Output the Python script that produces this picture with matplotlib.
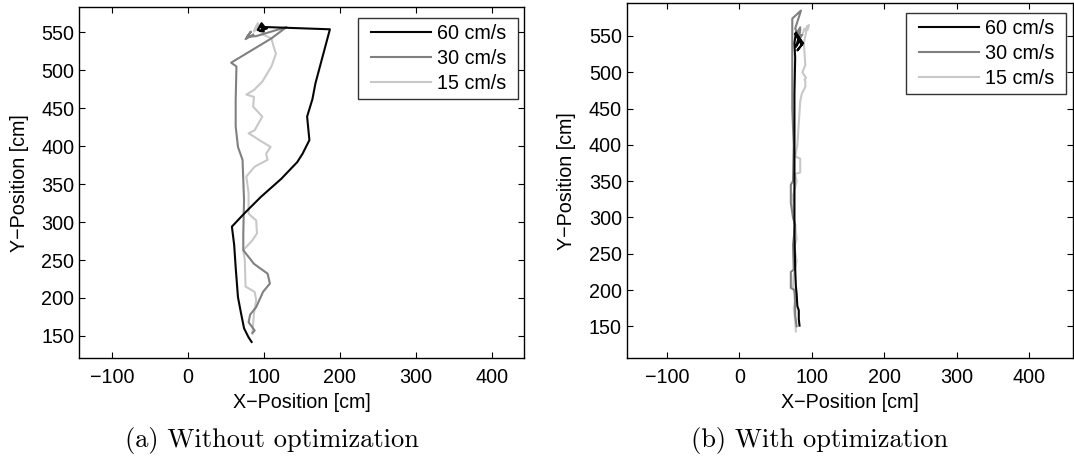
import matplotlib
matplotlib.use("Agg")
import matplotlib.pyplot as plt
from matplotlib.legend_handler import HandlerLine2D
from matplotlib.lines import Line2D

# ---------------- data ----------------
labels = ["60 cm/s", "30 cm/s", "15 cm/s"]
colors = ["#050505", "#808080", "#c8c8c8"]

# (a) Without optimization
x60_a = [84, 80, 74, 70, 66, 63, 61, 58, 74, 96, 123, 144, 151, 160, 157, 164, 168, 187, 101, 97, 92, 100, 96, 104, 95]
y60_a = [142, 148, 160, 180, 201, 240, 270, 294, 311, 333, 357, 379, 390, 408, 439, 462, 483, 554, 557, 562, 553, 551, 558, 555, 552]
x30_a = [85, 88, 80, 82, 90, 99, 108, 105, 87, 73, 73, 74, 72, 66, 63, 63, 64, 57, 110, 130, 90, 78, 83, 76, 86]
y30_a = [154, 157, 168, 178, 188, 208, 219, 232, 245, 263, 285, 329, 382, 399, 426, 461, 505, 510, 542, 557, 545, 544, 551, 541, 547]
x15_a = [85, 87, 90, 88, 76, 75, 73, 85, 91, 90, 80, 80, 77, 88, 105, 103, 109, 94, 88, 80, 88, 98, 86, 87, 77, 87, 98, 110, 116, 113, 110, 99, 90, 87, 92, 95, 89]
y15_a = [153, 179, 197, 208, 215, 250, 263, 276, 285, 302, 311, 338, 360, 373, 382, 390, 399, 408, 412, 417, 421, 439, 452, 465, 468, 474, 485, 505, 522, 531, 542, 547, 558, 551, 562, 556, 553]

# (b) With optimization
x60_b = [83, 82, 82, 80, 79, 78, 77, 76, 76, 76, 76, 77, 76, 78, 84, 78, 82, 88, 80, 86, 77, 83]
y60_b = [151, 160, 172, 178, 195, 205, 230, 280, 340, 400, 470, 520, 540, 555, 545, 535, 548, 540, 530, 538, 553, 545]
x30_b = [79, 77, 77, 76, 71, 71, 75, 74, 77, 74, 71, 71, 74, 75, 73, 73, 73, 85, 77, 80, 84, 82, 87, 80, 84]
y30_b = [150, 165, 178, 200, 203, 225, 228, 262, 290, 300, 320, 345, 350, 400, 450, 520, 574, 585, 560, 555, 562, 545, 552, 548, 558]
x15_b = [78, 77, 75, 78, 74, 75, 79, 76, 79, 77, 74, 74, 79, 77, 84, 84, 77, 80, 82, 84, 86, 91, 91, 90, 92, 87, 91, 89, 92, 93, 96, 94, 90, 88]
y15_b = [143, 160, 175, 190, 205, 220, 240, 260, 270, 290, 300, 330, 350, 360, 362, 381, 384, 400, 430, 460, 470, 480, 487, 490, 492, 500, 510, 540, 555, 563, 565, 558, 560, 555]

xticks = [-100, 0, 100, 200, 300, 400]
yticks = [150, 200, 250, 300, 350, 400, 450, 500, 550]

plt.rcParams["font.family"] = ["Liberation Sans", "DejaVu Sans"]
FS = 14.2
LW = 1.5

fig = plt.figure(figsize=(10.74, 4.70), dpi=100)

def setup(ax, xlim, ylim, leg_anchor):
    ax.set_xlim(*xlim)
    ax.set_ylim(*ylim)
    ax.set_xticks(xticks)
    ax.set_yticks(yticks)
    ax.tick_params(direction="in", top=True, right=True, length=4, width=0.8,
                   labelsize=FS, colors="black")
    ax.tick_params(axis="x", pad=7)
    ax.tick_params(axis="y", pad=3.5)
    for s in ax.spines.values():
        s.set_linewidth(1.0)
    ax.set_xlabel("X\u2212Position [cm]", fontsize=FS, labelpad=4)
    ax.set_ylabel("Y\u2212Position [cm]", fontsize=FS, labelpad=9)
    handles, labs = ax.get_legend_handles_labels()
    leg = ax.legend(handles, [l + " " for l in labs], loc="upper right",
                    bbox_to_anchor=leg_anchor, fontsize=FS,
                    frameon=True, fancybox=False, handlelength=3.4,
                    handletextpad=0.3, borderpad=0.3, labelspacing=0.3,
                    borderaxespad=0,
                    handler_map={Line2D: HandlerLine2D(xpad=0.36)})
    leg.get_frame().set_edgecolor("black")
    leg.get_frame().set_linewidth(1.0)

ax1 = fig.add_axes([0.0737, 0.2377, 0.4146, 0.7468])
ax1.plot(x60_a, y60_a, color=colors[0], lw=LW, label=labels[0], zorder=3)
ax1.plot(x30_a, y30_a, color=colors[1], lw=LW, label=labels[1], zorder=2)
ax1.plot(x15_a, y15_a, color=colors[2], lw=LW, label=labels[2], zorder=1)
setup(ax1, (-143, 443), (120.5, 583), (0.9854, 0.9695))

ax2 = fig.add_axes([0.5836, 0.2377, 0.4155, 0.7553])
ax2.plot(x60_b, y60_b, color=colors[0], lw=LW, label=labels[0], zorder=3)
ax2.plot(x30_b, y30_b, color=colors[1], lw=LW, label=labels[1], zorder=2)
ax2.plot(x15_b, y15_b, color=colors[2], lw=LW, label=labels[2], zorder=1)
setup(ax2, (-155.4, 460.5), (106, 595), (0.9843, 0.9718))

fig.text(271.5 / 1074, 1 - 440 / 470, "(a) Without optimization", fontsize=19,
         family="cmr10", ha="center", va="center")
fig.text(819.5 / 1074, 1 - 440 / 470, "(b) With optimization", fontsize=19,
         family="cmr10", ha="center", va="center")

fig.savefig("out.png", dpi=100)
